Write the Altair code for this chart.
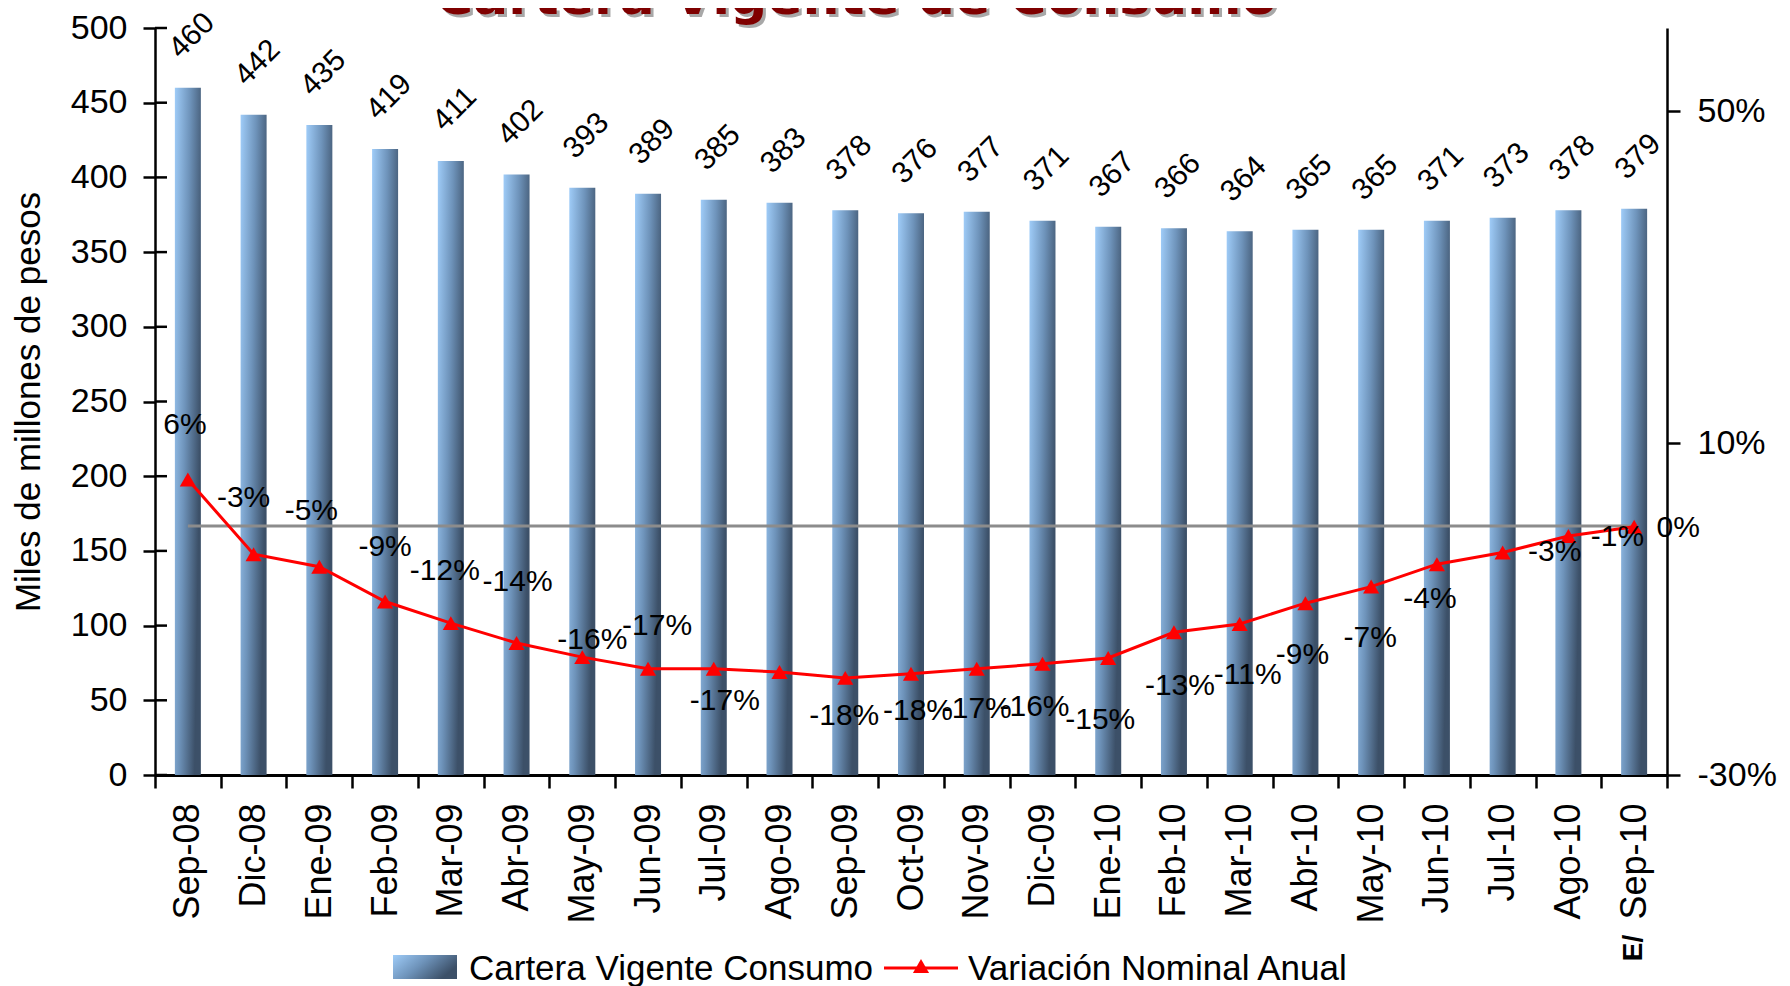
import altair as alt
import pandas as pd

# ---------------- data ----------------
cats = ["Sep-08", "Dic-08", "Ene-09", "Feb-09", "Mar-09", "Abr-09", "May-09", "Jun-09",
        "Jul-09", "Ago-09", "Sep-09", "Oct-09", "Nov-09", "Dic-09", "Ene-10", "Feb-10",
        "Mar-10", "Abr-10", "May-10", "Jun-10", "Jul-10", "Ago-10", "Sep-10"]
cartera = [460, 442, 435, 419, 411, 402, 393, 389, 385, 383, 378, 376, 377, 371, 367,
           366, 364, 365, 365, 371, 373, 378, 379]
variacion = [5.6, -3.4, -4.9, -9.1, -11.7, -14.1, -15.8, -17.2, -17.2, -17.6, -18.3, -17.8,
             -17.2, -16.6, -15.9, -12.8, -11.8, -9.3, -7.3, -4.6, -3.2, -1.2, -0.1]
var_labels = ["6%", "-3%", "-5%", "-9%", "-12%", "-14%", "-16%", "-17%", "-17%", "", "-18%",
              "-18%", "-17%", "-16%", "-15%", "-13%", "-11%", "-9%", "-7%", "-4%", "-3%",
              "-1%", "0%"]
left_ticks = [0, 50, 100, 150, 200, 250, 300, 350, 400, 450, 500]
right_ticks = [-30, 10, 50]

# label placement offsets (pixels, styling only)
label_dx = [-3, -10, -8, 0, -6, 1, 10, 9, 11, 0, -1, 7, 0, -8, -8, 6, 8, -3, -1, -7, 52, 49, 44]
label_dy = [-55, -56, -56, -55, -52, -61, -17, -43, 32, 0, 38, 37, 40, 43, 62, 54, 51, 52, 51, 35, -1, 1, 1]

FONT = "Liberation Sans"

df = pd.DataFrame({"cat": cats, "cartera": cartera, "var": variacion,
                   "lab": var_labels, "idx": list(range(len(cats)))})
ticks_df = pd.DataFrame({"cartera": left_ticks})
zero_df = pd.DataFrame({"cat": [cats[0]], "c2": [cats[-1]], "var": [0]})

xscale = alt.Scale(domain=cats, paddingInner=0, paddingOuter=0)
x_axis = alt.Axis(title=None, labelAngle=270, labelFont=FONT, labelFontSize=36,
                  labelColor="black", tickBand="extent", tickSize=13, tickWidth=2.5,
                  tickColor="black", domainColor="black", domainWidth=3,
                  labelPadding=15, labelOverlap=False)
x_enc = alt.X("cat:N", sort=cats, scale=xscale, axis=x_axis)

yl_scale = alt.Scale(domain=[0, 500], nice=False)
yl_axis = alt.Axis(orient="left", values=left_ticks, title="Miles de millones de pesos",
                   titleFont=FONT, titleFontSize=35, titleFontWeight="normal",
                   titleColor="black", titlePadding=24, labelFont=FONT, labelFontSize=34,
                   labelColor="black", tickSize=12, tickWidth=2.5, tickColor="black",
                   domainColor="black", domainWidth=2.5, labelPadding=16, grid=False)
yl = alt.Y("cartera:Q", scale=yl_scale, axis=yl_axis)

yr_scale = alt.Scale(domain=[-30, 60], nice=False, zero=False)
yr_axis = alt.Axis(orient="right", values=right_ticks, labelExpr="datum.value + '%'",
                   title=None, labelFont=FONT, labelFontSize=34, labelColor="black",
                   tickSize=13, tickWidth=2.5, tickColor="black", domainColor="black",
                   domainWidth=2.5, labelPadding=17, grid=False)
yr = alt.Y("var:Q", scale=yr_scale, axis=yr_axis)

bar_grad = alt.Gradient(gradient="linear",
                        stops=[alt.GradientStop(color="#9FCCF8", offset=0),
                               alt.GradientStop(color="#6E93BA", offset=0.5),
                               alt.GradientStop(color="#3C5068", offset=1)],
                        x1=0, y1=0, x2=1, y2=0.45)

base = alt.Chart(df)

bars = base.mark_bar(size=26, color=bar_grad).encode(x=x_enc, y=yl)
bar_labels = base.mark_text(angle=315, align="center", baseline="middle", font=FONT,
                            fontSize=30, color="black", yOffset=-52, xOffset=4).encode(
    x=x_enc, y=yl, text="cartera:Q")
inner_ticks = alt.Chart(ticks_df).mark_rule(color="black", strokeWidth=2.5).encode(
    y=yl, x=alt.value(0), x2=alt.value(12))

left = alt.layer(bars, bar_labels, inner_ticks)

zero_rule = alt.Chart(zero_df).mark_rule(color="#8C8C8C", strokeWidth=3).encode(
    x=x_enc, x2="c2:N", y=yr)
line = base.mark_line(color="#FF0000", strokeWidth=3).encode(x=x_enc, y=yr)
pts = base.mark_point(shape="triangle-up", filled=True, size=260, color="#FF0000",
                      opacity=1).encode(x=x_enc, y=yr)

label_layers = []
for i, t in enumerate(var_labels):
    if not t:
        continue
    label_layers.append(
        base.transform_filter(alt.datum.idx == i).mark_text(
            font=FONT, fontSize=30, color="black", align="center", baseline="middle",
            dx=label_dx[i], dy=label_dy[i]).encode(x=x_enc, y=yr, text="lab:N"))

right = alt.layer(zero_rule, line, pts, *label_layers)

# decorations: title, legend, footnote mark (pixel positions, no data scales)
last = base.transform_filter(alt.datum.idx == len(cats) - 1)
title_shadow = last.mark_text(text="Cartera Vigente de Consumo", font="DejaVu Sans",
                              fontWeight="bold", fontSize=52, color="#A8A8A8",
                              align="center", baseline="alphabetic").encode(
    x=alt.value(704), y=alt.value(-11))
title_txt = last.mark_text(text="Cartera Vigente de Consumo", font="DejaVu Sans",
                           fontWeight="bold", fontSize=52, color="#7F0000",
                           align="center", baseline="alphabetic").encode(
    x=alt.value(701), y=alt.value(-14))
leg_rect = last.mark_rect(color=bar_grad).encode(
    x=alt.value(238), x2=alt.value(302), y=alt.value(927), y2=alt.value(951))
leg_t1 = last.mark_text(text="Cartera Vigente Consumo", font=FONT, fontSize=35,
                        color="black", align="left", baseline="middle").encode(
    x=alt.value(314), y=alt.value(941))
leg_line = last.mark_rule(color="#FF0000", strokeWidth=3).encode(
    x=alt.value(729), x2=alt.value(803), y=alt.value(940))
leg_pt = last.mark_point(shape="triangle-up", filled=True, size=260, color="#FF0000",
                         opacity=1).encode(x=alt.value(766), y=alt.value(938))
leg_t2 = last.mark_text(text="Variación Nominal Anual", font=FONT, fontSize=35,
                        color="black", align="left", baseline="middle").encode(
    x=alt.value(813), y=alt.value(941))
foot = last.mark_text(text="E/", font=FONT, fontWeight="bold", fontSize=28, color="black",
                      angle=270, align="center", baseline="middle").encode(
    x=x_enc, y=alt.value(920))

deco = alt.layer(title_shadow, title_txt, leg_rect, leg_t1, leg_line, leg_pt, leg_t2, foot)

chart = alt.layer(left, right, deco).resolve_scale(y="independent").properties(
    width=1512, height=747,
    padding={"left": 147, "top": 20, "right": 115, "bottom": 220},
    autosize=alt.AutoSizeParams(type="none"),
    background="white",
).configure_view(stroke=None)

chart.save("out.html", embed_options={"renderer": "svg", "actions": False})
